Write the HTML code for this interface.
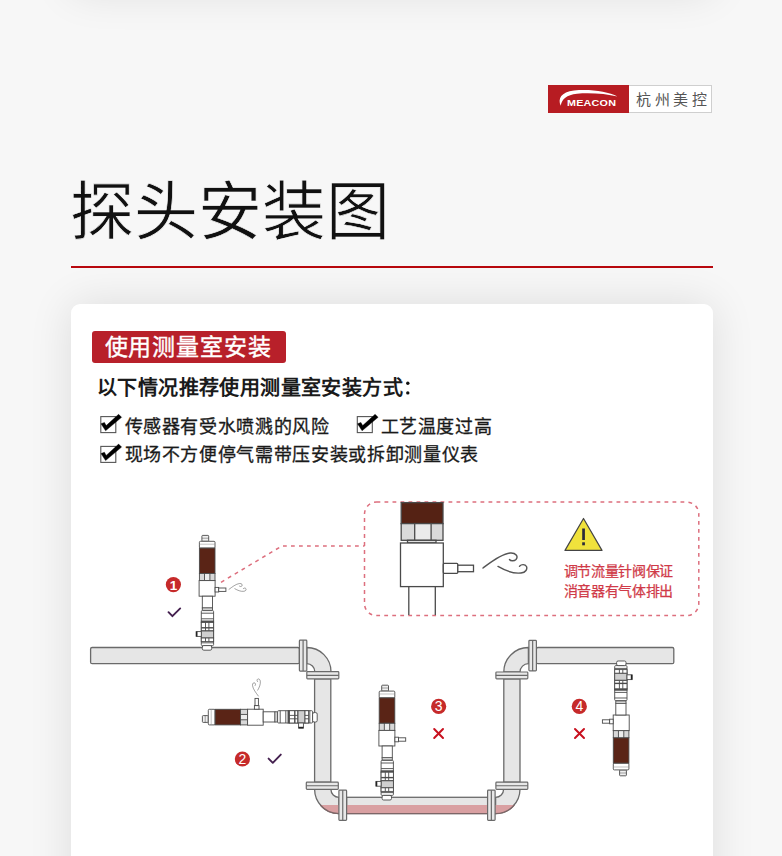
<!DOCTYPE html>
<html lang="zh-CN">
<head>
<meta charset="utf-8">
<style>
html,body{margin:0;padding:0;}
body{width:782px;height:856px;overflow:hidden;position:relative;background:#f7f7f7;font-family:"Liberation Sans",sans-serif;}
.abs{position:absolute;}
#topcard{left:71px;top:-80px;width:642px;height:72px;background:#f0f0f0;border-radius:8px;box-shadow:0 0 44px rgba(0,0,0,0.11);}
#card{left:71px;top:304px;width:642px;height:600px;background:#fff;border-radius:9px;box-shadow:0 0 44px rgba(0,0,0,0.11);}
#logo-red{left:548px;top:85px;width:81px;height:28px;background:#b71c22;}
#logo-white{left:629px;top:85px;width:82px;height:26px;background:#fff;border:1px solid #cfcfcf;border-left:none;}
#logo-cn{left:636px;top:89.5px;font-size:15px;line-height:20px;color:#555;letter-spacing:3.5px;white-space:nowrap;}
#logo-en{left:566.7px;top:96.5px;font-size:9.8px;line-height:11px;color:#fff;font-weight:bold;letter-spacing:0.2px;transform:scaleX(1.1);transform-origin:0 0;white-space:nowrap;}
#title{left:70px;top:173px;font-size:64px;line-height:78px;color:#111;white-space:nowrap;-webkit-text-stroke:0.7px #f7f7f7;}
#rule{left:71px;top:266px;width:642px;height:2px;background:#b8080e;}
#tag{left:92px;top:331px;width:194px;height:32px;background:#b8202a;border-radius:3px;}
#tag span{position:absolute;left:12.5px;top:1.5px;font-size:23px;letter-spacing:0.85px;line-height:28px;color:#fff;white-space:nowrap;-webkit-text-stroke:0.4px #fff;}
#lead{left:97px;top:376px;font-size:20px;letter-spacing:0.4px;line-height:24px;color:#1a1a1a;font-weight:bold;white-space:nowrap;}
.li{font-size:18px;letter-spacing:0.65px;-webkit-text-stroke:0.3px #1a1a1a;line-height:22px;color:#1a1a1a;white-space:nowrap;}
.cb{position:absolute;}
.note{font-size:14px;letter-spacing:-0.3px;line-height:20px;color:#d03a48;white-space:nowrap;-webkit-text-stroke:0.25px #d03a48;}
</style>
</head>
<body>
<div class="abs" id="topcard"></div>
<div class="abs" id="logo-red"></div>
<svg class="abs" style="left:548px;top:85px" width="81" height="28" viewBox="0 0 81 28">
  <path d="M12.8 20.8 C 9.5 14, 13 7, 26 5.6 C 42 4, 60 6.5, 69.5 11.6 C 58 8.8, 42 7.6, 29 8.8 C 18.5 10, 13.8 14, 12.8 20.8 Z" fill="#fff"/>
</svg>
<div class="abs" id="logo-en">MEACON</div>
<div class="abs" id="logo-white"></div>
<div class="abs" id="logo-cn">杭州美控</div>

<div class="abs" id="title">探头安装图</div>
<div class="abs" id="rule"></div>

<div class="abs" id="card"></div>
<div class="abs" id="tag"><span>使用测量室安装</span></div>
<div class="abs" id="lead">以下情况推荐使用测量室安装方式</div>

<svg class="abs" style="left:0;top:0" width="782" height="856" viewBox="0 0 782 856">
  <defs>
    <g id="cbox">
      <rect x="0.8" y="2.6" width="15" height="16" fill="#fff" stroke="#555" stroke-width="1.1"/>
      <path d="M1 9.8 L4.4 8.4 L6.2 11.6 L18.6 0.3 L21.6 3.3 L5.6 16.8 Z" fill="#000" stroke="#000" stroke-width="0.4" stroke-linejoin="round"/>
    </g>
  </defs>
  <use href="#cbox" x="100" y="414"/>
  <use href="#cbox" x="356.5" y="414"/>
  <use href="#cbox" x="100" y="443.8"/>
  <circle cx="407.8" cy="383.2" r="1.7" fill="#111"/><circle cx="407.8" cy="392.9" r="1.7" fill="#111"/>
</svg>
<div class="abs li" style="left:124.5px;top:416px">传感器有受水喷溅的风险</div>
<div class="abs li" style="left:380.5px;top:416px">工艺温度过高</div>
<div class="abs li" style="left:124.5px;top:444px">现场不方便停气需带压安装或拆卸测量仪表</div>

<!-- DIAGRAM -->
<svg class="abs" id="diag" style="left:0;top:0" width="782" height="856" viewBox="0 0 782 856">
  <defs>
    <g id="probe" stroke="#4a4a4a" stroke-width="0.9">
      <rect x="-5.2" y="-112.2" width="6.8" height="5.9" rx="0.8" fill="#f0f0f0"/>
      <line x1="-5.2" y1="-109.4" x2="1.6" y2="-109.4" stroke-width="0.5"/>
      <rect x="-7.7" y="-106.3" width="15.6" height="6.8" rx="1" fill="#fff"/>
      <line x1="-7.7" y1="-103.4" x2="7.9" y2="-103.4" stroke="#999" stroke-width="0.6"/>
      <rect x="-7.7" y="-99.5" width="15.6" height="25.4" fill="#5a2416"/>
      <rect x="-7.7" y="-74.1" width="15.6" height="7.1" fill="#d8d8d8"/>
      <rect x="-2.6" y="-74.1" width="5.4" height="7.1" fill="#ededed"/>
      <rect x="-8" y="-67" width="16" height="15.6" fill="#fff"/>
      <rect x="8" y="-60.2" width="3.6" height="4.6" fill="#fff"/>
      <rect x="11.6" y="-59.6" width="7.2" height="3.4" fill="#fff"/>
      <rect x="-4.8" y="-51.4" width="10.2" height="11.8" fill="#fff"/>
      <rect x="-4.8" y="-39.6" width="10.2" height="2.2" fill="#fff"/>
      <rect x="-5.8" y="-37" width="12.3" height="35" rx="1" fill="#fff"/>
      <line x1="-5.8" y1="-34.4" x2="6.5" y2="-34.4"/>
      <line x1="-5.8" y1="-28.8" x2="6.5" y2="-28.8"/>
      <rect x="-5.8" y="-26.6" width="12.3" height="1.4" fill="#555"/>
      <rect x="-5.8" y="-25.2" width="12.3" height="8.4" fill="#fff"/>
      <line x1="-5.8" y1="-19.8" x2="6.5" y2="-19.8" stroke-width="1.4"/>
      <line x1="-1.6" y1="-25.2" x2="-1.6" y2="-16.8"/>
      <line x1="1.8" y1="-25.2" x2="1.8" y2="-16.8"/>
      <rect x="-5.8" y="-16.6" width="12.3" height="7" fill="#cfcfcf"/>
      <rect x="-5.8" y="-9.6" width="12.3" height="3.6" fill="#fff"/>
      <line x1="-1.6" y1="-9.6" x2="-1.6" y2="-6"/>
      <line x1="1.8" y1="-9.6" x2="1.8" y2="-6"/>
      <line x1="-5.8" y1="-4.8" x2="6.5" y2="-4.8"/>
      <rect x="-4.8" y="-2" width="9.4" height="4.6" rx="1.5" fill="#fff"/>
      <rect x="-10.9" y="-16" width="5.1" height="4.8" fill="#fff"/>
      <line x1="-10.4" y1="-16" x2="-10.4" y2="-11.2" stroke-width="1.6" stroke="#222"/>
    </g>
    <path id="swirl" d="M0 15 C 8 9, 18 1, 27 0 C 33 -0.5, 35.5 3.5, 33 6.5 C 31 8.5, 27.5 8, 26.5 6.5 M15 13.4 C 22 17.5, 30 21, 38 20 C 43 19.5, 44.5 16, 43.5 13.5 C 42 11, 38.5 11, 36.5 13.2" fill="none" stroke="#555" stroke-width="1.4" stroke-linecap="round"/>
  </defs>

  <!-- callout -->
  <rect x="364.5" y="502.1" width="334.3" height="113.5" rx="12" fill="none" stroke="#dd6f7e" stroke-width="1.5" stroke-dasharray="3.8 4.2"/>
  <path d="M221 582.3 L282 545.9 L364.5 545.9" fill="none" stroke="#dd6f7e" stroke-width="1.5" stroke-dasharray="3.8 4.2"/>
  <!-- callout probe detail -->
  <g stroke="#4a4a4a" stroke-width="1.3">
    <rect x="401.2" y="502.6" width="41.8" height="21" fill="#552214"/>
    <rect x="401.2" y="523.6" width="41.8" height="16.7" fill="#dadada"/>
    <rect x="414.7" y="523.6" width="16.4" height="16.7" fill="#ebebeb"/>
    <rect x="407.5" y="540.3" width="28.5" height="2.6" fill="#e0e0e0"/>
    <rect x="400.5" y="543" width="42.8" height="43.6" fill="#fff"/>
    <rect x="443.3" y="563.4" width="14.5" height="9.9" rx="1" fill="#fff"/>
    <rect x="457.8" y="565.2" width="15.7" height="6.5" fill="#fff"/>
    <line x1="408.8" y1="586.6" x2="408.8" y2="615"/>
    <line x1="435.3" y1="586.6" x2="435.3" y2="615"/>
  </g>
  <use href="#swirl" transform="translate(483 553)"/>
  <!-- warning -->
  <path d="M583.5 518.5 L602 550.4 L565 550.4 Z" fill="#f0e23c" stroke="#444" stroke-width="1.2" stroke-linejoin="round"/>
  <rect x="582.2" y="528.5" width="2.7" height="11.5" fill="#2a2a3a"/>
  <rect x="582.2" y="542.3" width="2.7" height="3" fill="#2a2a3a"/>

  <!-- pipes -->
  <g stroke="#6a6a6a" stroke-width="1.3" fill="#e6e6e6">
    <rect x="90.6" y="647.5" width="208.8" height="16.2" rx="1.5"/>
    <rect x="536.4" y="647.5" width="137.4" height="16.2" rx="1.5"/>
    <rect x="314.6" y="678.9" width="16.2" height="103.3"/>
    <rect x="503.8" y="678.9" width="16.2" height="103.3"/>
    <rect x="346.6" y="797.3" width="141" height="16.2"/>
    <!-- elbows -->
    <path d="M306.8 647.5 A24.2 24.2 0 0 1 331 671.7 L314.8 671.7 A8 8 0 0 0 306.8 663.7 Z"/>
    <path d="M314.6 789.3 A24.3 24.3 0 0 0 338.9 813.6 L338.9 797.3 A8 8 0 0 1 330.9 789.3 Z"/>
    <path d="M520 789.3 A24.4 24.4 0 0 1 495.6 813.6 L495.6 797.3 A8 8 0 0 0 503.6 789.3 Z"/>
    <path d="M503.8 672 A24.6 24.6 0 0 1 528.4 647.5 L528.4 663.7 A8.4 8.4 0 0 0 520 672 Z"/>
  </g>
  <!-- liquid -->
  <g fill="#d9a0a2">
    <rect x="338" y="805" width="158" height="8.6" />
    <path d="M320.35 805 A24.3 24.3 0 0 0 338.9 813.6 L338.9 805 Z"/>
    <path d="M495.6 805 L514.3 805 A24.4 24.4 0 0 1 495.6 813.7 Z"/>
  </g>
  <path d="M320.35 805 A24.3 24.3 0 0 0 338.9 813.6 L495.6 813.6 A24.4 24.4 0 0 0 514.3 805" fill="none" stroke="#7d6667" stroke-width="1.3"/>
  <!-- flanges -->
  <g stroke="#6a6a6a" stroke-width="1.2" fill="#e8e8e8">
    <rect x="299.4" y="640.2" width="7.4" height="30.9" rx="0.8"/>
    <line x1="303.1" y1="640.2" x2="303.1" y2="671.1"/>
    <rect x="306.8" y="671.7" width="32" height="7.2" rx="0.8"/>
    <line x1="306.8" y1="675.3" x2="338.8" y2="675.3"/>
    <rect x="306.3" y="782.2" width="32" height="7.1" rx="0.8"/>
    <line x1="306.3" y1="785.75" x2="338.3" y2="785.75"/>
    <rect x="338.9" y="790.2" width="7.7" height="30.2" rx="0.8"/>
    <line x1="342.75" y1="790.2" x2="342.75" y2="820.4"/>
    <rect x="487.6" y="790.2" width="7.5" height="30.2" rx="0.8"/>
    <line x1="491.35" y1="790.2" x2="491.35" y2="820.4"/>
    <rect x="495.9" y="782.2" width="31.9" height="7.1" rx="0.8"/>
    <line x1="495.9" y1="785.75" x2="527.8" y2="785.75"/>
    <rect x="495.9" y="672" width="31.9" height="6.9" rx="0.8"/>
    <line x1="495.9" y1="675.45" x2="527.8" y2="675.45"/>
    <rect x="528.9" y="640.4" width="7.5" height="30.5" rx="0.8"/>
    <line x1="532.65" y1="640.4" x2="532.65" y2="670.9"/>
  </g>

  <!-- probes -->
  <use href="#probe" transform="translate(207.1 647.6)"/>
  <use href="#probe" transform="translate(314.6 717.2) rotate(-90)"/>
  <use href="#probe" transform="translate(386.9 797.4)"/>
  <use href="#probe" transform="translate(621.2 663.6) rotate(180)"/>
  <use href="#swirl" transform="translate(229 583.5) scale(0.39)"/>
  <use href="#swirl" transform="translate(252.5 696) rotate(-90) scale(0.39)"/>

  <!-- markers -->
  <g fill="#c62a2a">
    <circle cx="173.4" cy="584.6" r="7.6"/>
    <circle cx="242.4" cy="759" r="7.6"/>
    <circle cx="438.65" cy="706.4" r="7.6"/>
    <circle cx="579.3" cy="706.4" r="7.6"/>
  </g>
  <g fill="#fff" font-family="Liberation Sans, sans-serif" font-size="14" text-anchor="middle">
    <text x="173.6" y="589.6" font-weight="bold" font-size="13.5">1</text>
    <text x="242.4" y="764">2</text>
    <text x="438.65" y="711.4">3</text>
    <text x="579.3" y="711.4">4</text>
  </g>
  <g fill="none" stroke="#44204f" stroke-width="1.9" stroke-linecap="round" stroke-linejoin="round">
    <path d="M168.5 612.2 L172.4 616.2 L180.2 608.4"/>
    <path d="M268.6 758.6 L272.8 762.8 L280.8 754.6"/>
  </g>
  <g fill="none" stroke="#c8101e" stroke-width="2" stroke-linecap="round">
    <path d="M434.2 729 L443 738 M443 729 L434.2 738"/>
    <path d="M575 729 L584 738 M584 729 L575 738"/>
  </g>
</svg>

<div class="abs note" style="left:563.5px;top:561px">调节流量针阀保证</div>
<div class="abs note" style="left:563.5px;top:581px">消音器有气体排出</div>
</body>
</html>
